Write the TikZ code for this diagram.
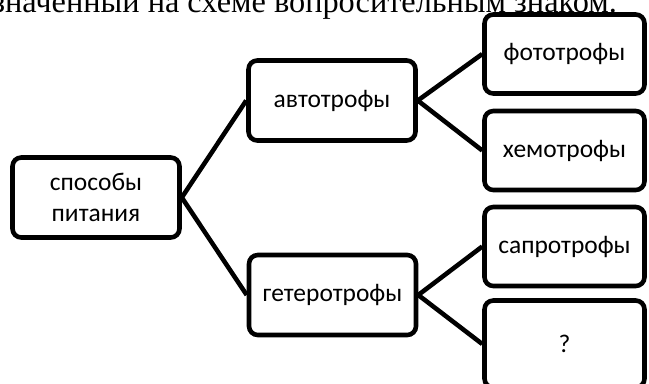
\documentclass[tikz,border=0pt]{standalone}
\usepackage{fontspec}
\setmainfont{Carlito}
\newfontfamily\docfont{Liberation Serif}
\usepackage{tikz}

\begin{document}
\begin{tikzpicture}[x=0.02cm,y=-0.02cm,
  box/.style={draw,line width=2.6pt,rounded corners=5pt,minimum width=3.34cm,
              minimum height=1.6cm,align=center,inner sep=0pt,
              font=\fontsize{14.5}{18}\selectfont},
  leaf/.style={box,minimum width=3.2cm,minimum height=1.58cm},
  ln/.style={line width=2.6pt}
]
\clip (0,0) rectangle (649,383);
% the last line of the task text, cut at the top
\node[anchor=base west,inner sep=0pt,font=\docfont\fontsize{18.4}{22}\selectfont] (task) at (-8,12)
  {значенный на схеме вопросительным знаком.};
% root
\node[box] (pit) at (96,197.5) {способы\\питания};
% second level
\node[box] (avto) at (332,100.5) {автотрофы};
\node[box] (getero) at (332.5,295) {гетеротрофы};
\draw[ln] (pit.east) -- (avto.west);
\draw[ln] (pit.east) -- (getero.west);
% leaves
\node[leaf] (foto) at (564.5,54) {фототрофы};
\node[leaf] (hemo) at (564.5,150.5) {хемотрофы};
\node[leaf] (sapro) at (564.5,246.5) {сапротрофы};
\node[leaf,minimum height=1.74cm] (vopr) at (564.5,344) {?};
\draw[ln] (avto.east) -- (foto.west);
\draw[ln] (avto.east) -- (hemo.west);
\draw[ln] (getero.east) -- (sapro.west);
\draw[ln] (getero.east) -- (vopr.west);
\end{tikzpicture}
\end{document}
